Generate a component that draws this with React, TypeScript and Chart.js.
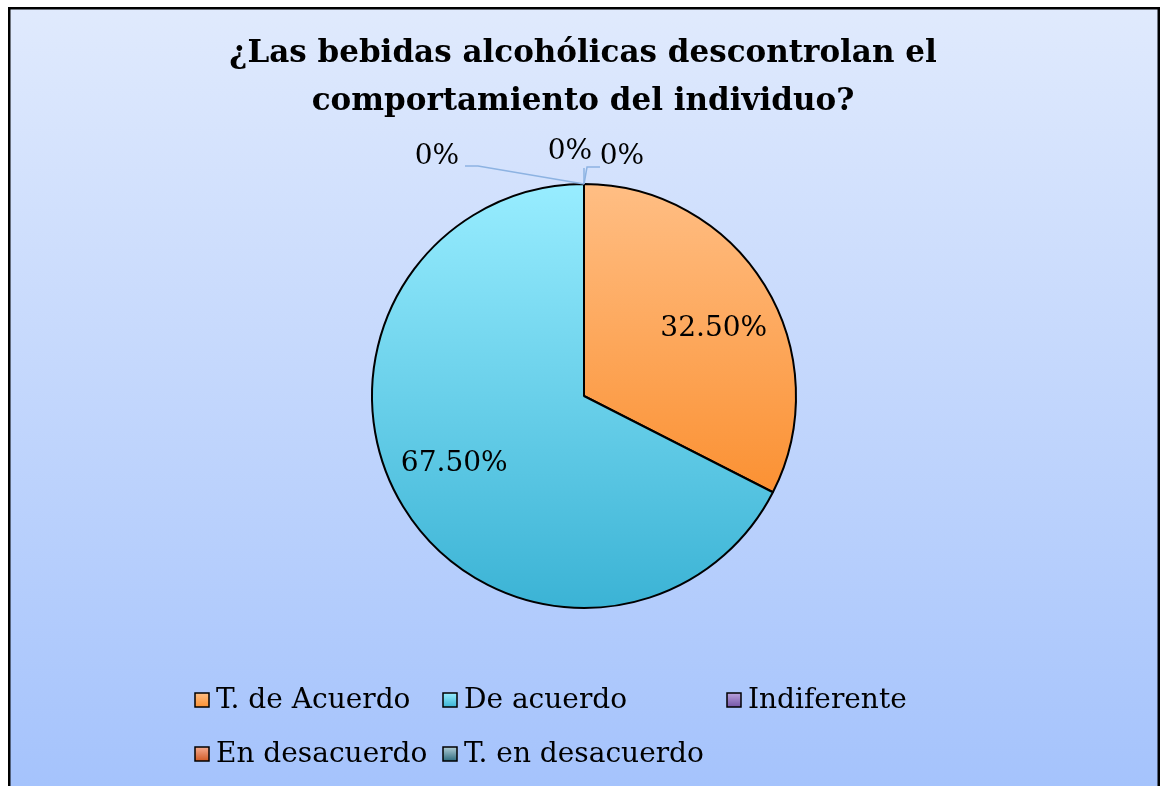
import React, { useEffect, useRef } from "react";
import { Chart, registerables } from "chart.js";

Chart.register(...registerables);

const titleLines = ["¿Las bebidas alcohólicas descontrolan el", "comportamiento del individuo?"];
const categories = ["T. de Acuerdo", "De acuerdo", "Indiferente", "En desacuerdo", "T. en desacuerdo"];
const values = [32.5, 67.5, 0, 0, 0];
const valueLabels = ["32.50%", "67.50%", "0%", "0%", "0%"];
const colorsTop = ["#ffbe84", "#98edff", "#b9a2de", "#f5ab90", "#b0cdd6"];
const colorsBottom = ["#fb9133", "#3bb3d5", "#7456a6", "#d05a25", "#2d6b7e"];

const FONT = "'DejaVu Serif', 'Liberation Serif', serif";
const RADIUS = 212;

// layout/style config (not data)
const zeroLabelOffsets = [
  { tx: -147, ty: -27, path: [[0, 0], [-106, -18], [-119, -18]] },
  { tx: -14, ty: -32, path: [[0, 0], [0, -16]] },
  { tx: 38, ty: -27, path: [[0, 0], [3, -17], [16, -17]] },
];
const legendColumns = [187, 435, 719];
const legendRows = [693, 747];

function sliceYRange(startA: number, endA: number, cy: number, r: number) {
  let minY = cy, maxY = cy;
  const steps = 60;
  for (let i = 0; i <= steps; i++) {
    const a = startA + ((endA - startA) * i) / steps;
    const y = cy + r * Math.sin(a);
    if (y < minY) minY = y;
    if (y > maxY) maxY = y;
  }
  return [minY, maxY];
}

const bgPlugin = {
  id: "bgPlugin",
  beforeDraw(chart: any) {
    const { ctx, width, height } = chart;
    ctx.save();
    const g = ctx.createLinearGradient(0, 0, 0, height);
    g.addColorStop(0, "#e0eafd");
    g.addColorStop(1, "#a5c3fc");
    ctx.fillStyle = g;
    ctx.fillRect(0, 0, width, height);
    ctx.strokeStyle = "#000";
    ctx.lineWidth = 2.5;
    ctx.strokeRect(1.25, 1.25, width - 2.5, height + 20);
    // title
    ctx.fillStyle = "#000";
    ctx.font = `bold 31px ${FONT}`;
    ctx.textAlign = "center";
    ctx.textBaseline = "middle";
    titleLines.forEach((t, i) => ctx.fillText(t, width / 2 - 1, 47 + i * 48));
    ctx.restore();
  },
  afterDraw(chart: any) {
    const { ctx } = chart;
    const meta = chart.getDatasetMeta(0);
    const total = values.reduce((a, b) => a + b, 0);
    ctx.save();
    ctx.fillStyle = "#000";
    ctx.font = `28px ${FONT}`;
    ctx.textAlign = "center";
    ctx.textBaseline = "middle";
    let zi = 0;
    meta.data.forEach((arc: any, i: number) => {
      const { x, y, startAngle, endAngle, outerRadius } = arc.getProps(["x", "y", "startAngle", "endAngle", "outerRadius"], true);
      if (values[i] / total > 0) {
        const mid = (startAngle + endAngle) / 2 + (4 * Math.PI) / 180;
        const r = outerRadius * 0.69;
        ctx.fillText(valueLabels[i], x + r * Math.cos(mid), y + r * Math.sin(mid));
      } else {
        const ax = x + outerRadius * Math.cos(startAngle);
        const ay = y + outerRadius * Math.sin(startAngle);
        const o = zeroLabelOffsets[zi % zeroLabelOffsets.length];
        zi++;
        ctx.strokeStyle = "#8db3e2";
        ctx.lineWidth = 1.5;
        ctx.beginPath();
        o.path.forEach(([px, py], k) => {
          if (k === 0) ctx.moveTo(ax + px, ay + py);
          else ctx.lineTo(ax + px, ay + py);
        });
        ctx.stroke();
        ctx.fillText(valueLabels[i], ax + o.tx, ay + o.ty);
      }
    });
    // legend
    ctx.textAlign = "left";
    categories.forEach((c, i) => {
      const col = i % 3;
      const row = Math.floor(i / 3);
      const bx = legendColumns[col];
      const by = legendRows[row];
      const s = 14;
      const g = ctx.createLinearGradient(0, by - s / 2, 0, by + s / 2);
      g.addColorStop(0, colorsTop[i]);
      g.addColorStop(1, colorsBottom[i]);
      ctx.fillStyle = g;
      ctx.fillRect(bx, by - s / 2, s, s);
      ctx.strokeStyle = "#000";
      ctx.lineWidth = 1.5;
      ctx.strokeRect(bx, by - s / 2, s, s);
      ctx.fillStyle = "#000";
      ctx.fillText(c, bx + 21, by + 1);
    });
    ctx.restore();
  },
};

export default function App() {
  const ref = useRef<HTMLCanvasElement | null>(null);
  useEffect(() => {
    if (!ref.current) return;
    const total = values.reduce((a, b) => a + b, 0);
    const chart = new Chart(ref.current, {
      type: "pie",
      data: {
        labels: categories,
        datasets: [
          {
            data: values,
            backgroundColor: (c: any) => {
              const ch = c.chart;
              const ca = ch.chartArea;
              const i = c.dataIndex;
              if (!ca || i === undefined) return colorsTop[i ?? 0];
              const cx = (ca.left + ca.right) / 2;
              const cy = (ca.top + ca.bottom) / 2;
              let acc = 0;
              for (let k = 0; k < i; k++) acc += values[k];
              const sA = -Math.PI / 2 + (acc / total) * 2 * Math.PI;
              const eA = sA + (values[i] / total) * 2 * Math.PI;
              const [y0, y1] = sliceYRange(sA, eA, cy, RADIUS);
              const g = ch.ctx.createLinearGradient(cx, y0, cx, Math.max(y1, y0 + 1));
              g.addColorStop(0, colorsTop[i]);
              g.addColorStop(1, colorsBottom[i]);
              return g;
            },
            borderColor: "#000",
            borderWidth: 2,
          },
        ],
      },
      options: {
        responsive: true,
        maintainAspectRatio: false,
        animation: false,
        radius: RADIUS,
        layout: { padding: { top: 100, bottom: 101, left: 0, right: 0 } },
        plugins: {
          legend: { display: false },
          title: { display: false },
          tooltip: { enabled: false },
        },
      } as any,
      plugins: [bgPlugin],
    });
    return () => chart.destroy();
  }, []);
  return (
    <div style={{ position: "fixed", left: 8, top: 7, width: 1152, height: 779 }}>
      <canvas ref={ref} />
    </div>
  );
}
